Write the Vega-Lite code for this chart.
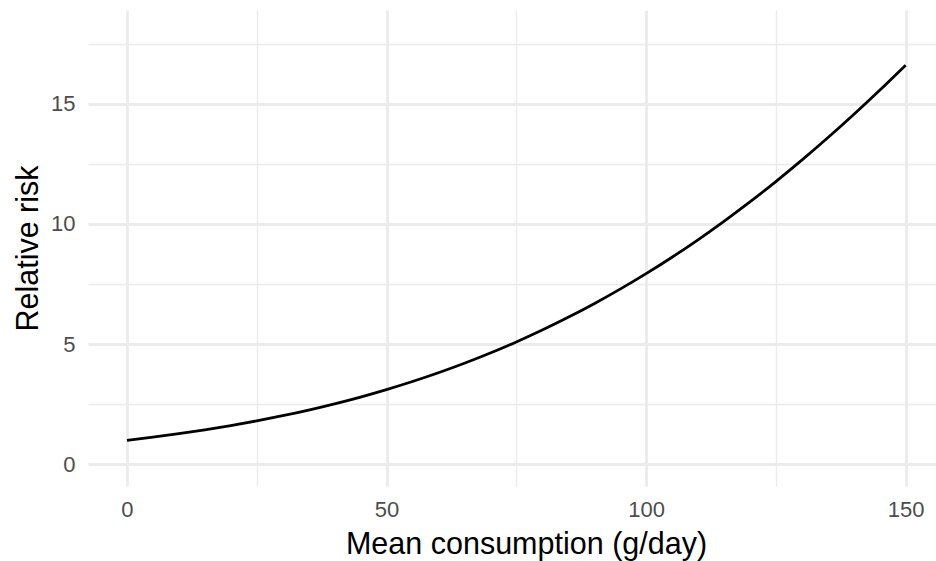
{
  "$schema": "https://vega.github.io/schema/vega-lite/v6.json",
  "width": 848,
  "height": 476,
  "autosize": {"type": "none"},
  "padding": {"left": 88, "top": 10, "right": 0, "bottom": 75},
  "background": "white",
  "config": {"view": {"stroke": null}, "font": "Liberation Sans"},
  "data": {
    "values": [
      {"consumption": 0, "rr": 1.000},
      {"consumption": 5, "rr": 1.130},
      {"consumption": 10, "rr": 1.275},
      {"consumption": 15, "rr": 1.435},
      {"consumption": 20, "rr": 1.612},
      {"consumption": 25, "rr": 1.808},
      {"consumption": 30, "rr": 2.023},
      {"consumption": 35, "rr": 2.259},
      {"consumption": 40, "rr": 2.518},
      {"consumption": 45, "rr": 2.801},
      {"consumption": 50, "rr": 3.110},
      {"consumption": 55, "rr": 3.446},
      {"consumption": 60, "rr": 3.810},
      {"consumption": 65, "rr": 4.205},
      {"consumption": 70, "rr": 4.632},
      {"consumption": 75, "rr": 5.091},
      {"consumption": 80, "rr": 5.586},
      {"consumption": 85, "rr": 6.116},
      {"consumption": 90, "rr": 6.683},
      {"consumption": 95, "rr": 7.288},
      {"consumption": 100, "rr": 7.933},
      {"consumption": 105, "rr": 8.617},
      {"consumption": 110, "rr": 9.342},
      {"consumption": 115, "rr": 10.109},
      {"consumption": 120, "rr": 10.916},
      {"consumption": 125, "rr": 11.764},
      {"consumption": 130, "rr": 12.653},
      {"consumption": 135, "rr": 13.583},
      {"consumption": 140, "rr": 14.552},
      {"consumption": 145, "rr": 15.559},
      {"consumption": 150, "rr": 16.603}
    ]
  },
  "mark": {"type": "line", "color": "black", "strokeWidth": 2.8, "interpolate": "monotone", "clip": true},
  "encoding": {
    "x": {
      "field": "consumption",
      "type": "quantitative",
      "scale": {"domain": [-7.5, 155.85], "nice": false, "zero": false},
      "axis": {
        "values": [0, 25, 50, 75, 100, 125, 150],
        "labelExpr": "datum.value % 50 === 0 ? datum.label : ''",
        "labelOverlap": false,
        "labelFlush": false,
        "grid": true,
        "gridColor": "#EBEBEB",
        "gridWidth": {"condition": {"test": "datum.value % 50 === 0", "value": 2.8}, "value": 1.4},
        "ticks": false,
        "domain": false,
        "labelFont": "Liberation Sans",
        "labelFontSize": 22,
        "labelColor": "#4D4D4D",
        "labelPadding": 13,
        "title": "Mean consumption (g/day)",
        "titleFont": "Liberation Sans",
        "titleFontSize": 30.5,
        "titleFontWeight": "normal",
        "titleColor": "black",
        "titleX": 438,
        "titleAlign": "center",
        "titlePadding": 9
      }
    },
    "y": {
      "field": "rr",
      "type": "quantitative",
      "scale": {"domain": [-0.9, 18.9], "nice": false, "zero": false},
      "axis": {
        "values": [0, 2.5, 5, 7.5, 10, 12.5, 15, 17.5],
        "labelExpr": "datum.value % 5 === 0 ? datum.label : ''",
        "labelOverlap": false,
        "labelFlush": false,
        "grid": true,
        "gridColor": "#EBEBEB",
        "gridWidth": {"condition": {"test": "datum.value % 5 === 0", "value": 2.8}, "value": 1.4},
        "ticks": false,
        "domain": false,
        "labelFont": "Liberation Sans",
        "labelFontSize": 22,
        "labelColor": "#4D4D4D",
        "labelPadding": 13,
        "title": "Relative risk",
        "titleFont": "Liberation Sans",
        "titleFontSize": 30.5,
        "titleFontWeight": "normal",
        "titleColor": "black",
        "titleBaseline": "alphabetic",
        "titlePadding": 13
      }
    }
  }
}
